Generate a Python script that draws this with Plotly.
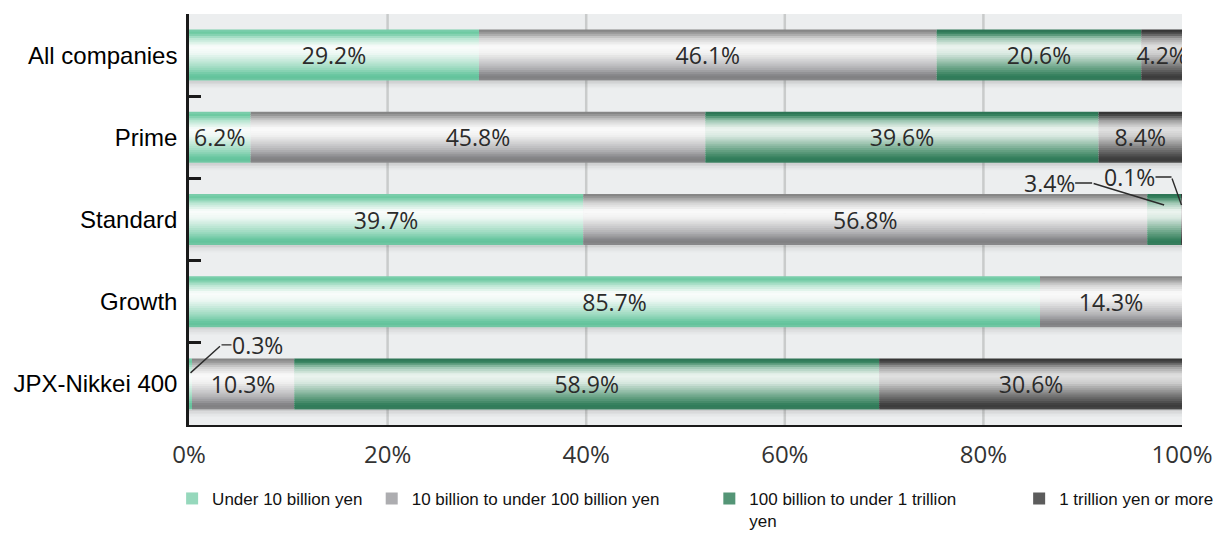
import plotly.graph_objects as go

# Market-cap distribution of listed companies by segment (% of companies)
categories = ["All companies", "Prime", "Standard", "Growth", "JPX-Nikkei 400"]
series_names = [
    "Under 10 billion yen",
    "10 billion to under 100 billion yen",
    "100 billion to under 1 trillion<br>yen",
    "1 trillion yen or more",
]
under_10bn = [29.2, 6.2, 39.7, 85.7, 0.3]
from_10bn_to_100bn = [46.1, 45.8, 56.8, 14.3, 10.3]
from_100bn_to_1tn = [20.6, 39.6, 3.4, 0.0, 58.9]
over_1tn = [4.2, 8.4, 0.1, 0.0, 30.6]
tick_values = [0, 20, 40, 60, 80, 100]
tick_labels = ["0%", "20%", "40%", "60%", "80%", "100%"]

series_values = [under_10bn, from_10bn_to_100bn, from_100bn_to_1tn, over_1tn]

# Vertical shading for each series (position across bar thickness, colour), top to bottom
gradients = [
    [(0.0, "#7fcfae"), (0.07, "#6cc9a1"), (0.17, "#b5e4cf"), (0.33, "#fbfdfc"),
     (0.47, "#eef8f4"), (0.75, "#9edbc1"), (0.92, "#5fc29a"), (1.0, "#74c8a5")],
    [(0.0, "#7e7e7e"), (0.07, "#9a9a9a"), (0.17, "#d2d2d2"), (0.33, "#fbfbfb"),
     (0.47, "#f0f0f0"), (0.75, "#b4b4b6"), (0.92, "#7e7e81"), (1.0, "#8a8a8c")],
    [(0.0, "#2a7052"), (0.07, "#37835f"), (0.17, "#9cc6b1"), (0.33, "#eef5f1"),
     (0.47, "#d9e9e1"), (0.75, "#6aa487"), (0.92, "#2f7b58"), (1.0, "#3a7e5f")],
    [(0.0, "#2e2e2e"), (0.07, "#4a4a4a"), (0.17, "#a0a0a0"), (0.33, "#e2e2e2"),
     (0.47, "#cfcfcf"), (0.75, "#6f6f6f"), (0.92, "#3a3a3a"), (1.0, "#4a4a4a")],
]
legend_tone = [0.8, 0.8, 0.85, 0.85]

BAR_WIDTH = 0.62
N_BANDS = 24
MIN_INSIDE = 4.0
LABEL_FONT = dict(family="Open Sans", size=23, color="#2b2b2b")


def hex_to_rgb(h):
    h = h.lstrip("#")
    return tuple(int(h[i:i + 2], 16) for i in (0, 2, 4))


def shade(stops, t):
    for (t0, c0), (t1, c1) in zip(stops, stops[1:]):
        if t0 <= t <= t1:
            f = 0 if t1 == t0 else (t - t0) / (t1 - t0)
            a, b = hex_to_rgb(c0), hex_to_rgb(c1)
            r = [round(a[k] + (b[k] - a[k]) * f) for k in range(3)]
            return f"rgb({r[0]},{r[1]},{r[2]})"
    return stops[-1][1]


# starting point of every segment along the 0-100% axis
bases = []
running = [0.0] * len(categories)
for vals in series_values:
    bases.append(list(running))
    running = [r + v for r, v in zip(running, vals)]
totals = running

fig = go.Figure()

# soft drop shadow under each bar
shadow_alpha = [0.16, 0.11, 0.07, 0.04, 0.02]
for j, a in enumerate(shadow_alpha):
    fig.add_trace(go.Bar(
        y=categories, x=totals, base=[0] * len(categories), orientation="h",
        offset=BAR_WIDTH / 2 + j * 0.018, width=0.02,
        marker=dict(color=f"rgba(60,60,60,{a})", line=dict(width=0)),
        hoverinfo="skip", showlegend=False,
    ))

band = BAR_WIDTH / N_BANDS
legend_ids = ["legend", "legend2", "legend3", "legend4"]
for s, (name, vals) in enumerate(zip(series_names, series_values)):
    pick = int(legend_tone[s] * (N_BANDS - 1))
    for i in range(N_BANDS):
        t = (i + 0.5) / N_BANDS
        fig.add_trace(go.Bar(
            y=categories, x=vals, base=bases[s], orientation="h",
            offset=-BAR_WIDTH / 2 + i * band, width=band * 1.35 if i < N_BANDS - 1 else band,
            marker=dict(color=shade(gradients[s], t), line=dict(width=0)),
            name=name, legend=legend_ids[s], showlegend=(i == pick),
            hoverinfo="skip",
        ))

# value labels carried by transparent bars over each segment
for s, vals in enumerate(series_values):
    fig.add_trace(go.Bar(
        y=categories, x=vals, base=bases[s], orientation="h",
        offset=-BAR_WIDTH / 2, width=BAR_WIDTH,
        marker=dict(color="rgba(0,0,0,0)", line=dict(width=0)),
        text=[f"{v}%" if v >= MIN_INSIDE else "" for v in vals],
        textposition="inside", insidetextanchor="middle", constraintext="none",
        textangle=0, textfont=LABEL_FONT, insidetextfont=LABEL_FONT,
        showlegend=False, hovertemplate="%{y}: %{x}%<extra></extra>",
    ))

# callouts for segments too narrow for an inside label:
# (series, category, bar-relative y, elbow dx, elbow dy, text dx)
callouts = [
    (2, 2, -0.176, -72, -22, -43),
    (3, 2, -0.176, -10, -28, -42),
    (0, 4, -0.134, 31, -28, 36),
]
annotations = []
for s, k, dy_data, ex, ey, tx in callouts:
    v = series_values[s][k]
    xp = bases[s][k] + v / 2
    yp = k + dy_data
    annotations.append(dict(
        x=xp, y=yp, xref="x", yref="y", text="", showarrow=True,
        ax=ex, ay=ey, arrowhead=0, arrowwidth=1.4, arrowcolor="#2b2b2b",
    ))
    annotations.append(dict(
        x=xp, y=yp, xref="x", yref="y", text=f"{v}%", showarrow=True,
        xshift=ex, yshift=-ey, ax=tx, ay=0, arrowhead=0, arrowwidth=1.4,
        arrowcolor="#2b2b2b", font=LABEL_FONT, borderpad=0,
    ))

shapes = [
    dict(type="line", xref="x", yref="paper", x0=v, x1=v, y0=0, y1=1,
         line=dict(color="#c9cbcb", width=2.5), layer="below")
    for v in tick_values[1:-1]
]

legend_font = dict(family="Liberation Sans, Arial", size=17, color="#111")
legend_x = [-0.017, 0.184, 0.524, 0.836]
legend_cfg = {}
for lid, lx in zip(legend_ids, legend_x):
    legend_cfg[lid] = dict(
        x=lx, y=-0.136, xanchor="left", yanchor="top", orientation="h",
        font=legend_font, bgcolor="rgba(0,0,0,0)", borderwidth=0,
        valign="top", itemclick=False, itemdoubleclick=False,
    )

fig.update_layout(
    width=1231, height=540,
    margin=dict(l=189, r=49, t=14, b=115, autoexpand=False),
    barmode="overlay",
    paper_bgcolor="white",
    plot_bgcolor="#eceeef",
    shapes=shapes,
    annotations=annotations,
    xaxis=dict(
        range=[0, 100], tickvals=tick_values, ticktext=tick_labels,
        showgrid=False, zeroline=False, showline=True, linecolor="#1a1a1a",
        linewidth=2, ticks="", ticklabelstandoff=7,
        tickfont=dict(family="Open Sans", size=24, color="#333"),
    ),
    yaxis=dict(
        type="category", categoryorder="array", categoryarray=categories,
        range=[4.5, -0.5], showgrid=False, zeroline=False,
        showline=True, linecolor="#1a1a1a", linewidth=2.5,
        ticks="inside", tickson="boundaries", ticklen=12, tickwidth=3,
        tickcolor="#1a1a1a", ticklabelstandoff=4,
        tickfont=dict(family="Liberation Sans, Arial", size=24, color="#000"),
    ),
    **legend_cfg,
)

fig.write_html("out.html")
